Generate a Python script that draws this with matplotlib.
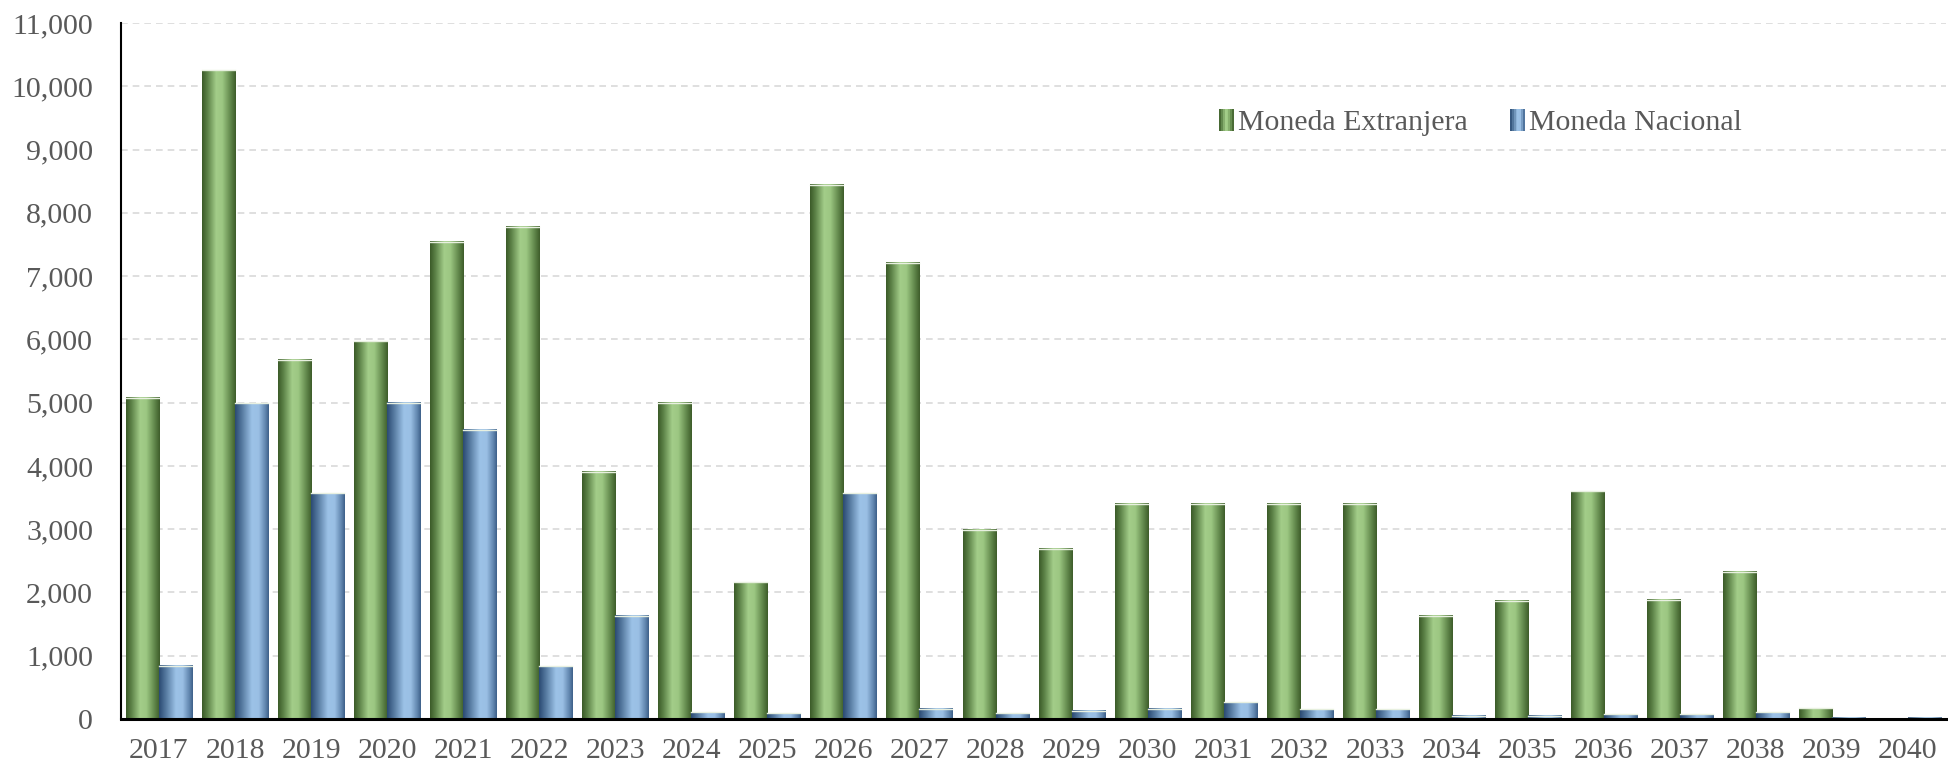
import numpy as np
import matplotlib
matplotlib.use("Agg")
import matplotlib.pyplot as plt
from matplotlib.colors import LinearSegmentedColormap
from matplotlib.ticker import FuncFormatter, MultipleLocator
from matplotlib.patches import Patch, Rectangle
from matplotlib.legend_handler import HandlerBase

years = [str(y) for y in range(2017, 2041)]
extranjera = [5080, 10250, 5680, 5970, 7540, 7780, 3910, 5000, 2160, 8440, 7210, 2990,
              2690, 3400, 3400, 3400, 3400, 1630, 1870, 3600, 1885, 2330, 170, 5]
nacional = [840, 4990, 3570, 5000, 4570, 830, 1630, 110, 90, 3570, 160, 90,
            130, 160, 268, 158, 158, 52, 52, 79, 79, 110, 16, 16]
labels = ["Moneda Extranjera", "Moneda Nacional"]

plt.rcParams['font.family'] = ['Liberation Serif', 'DejaVu Serif']
txt = '#595959'
FS = 21.5

green_cmap = LinearSegmentedColormap.from_list(
    'g', [(0, '#3b5a28'), (0.15, '#5a7f45'), (0.42, '#a3cd89'), (0.6, '#9cc782'),
          (0.85, '#5f8549'), (1, '#3d5c2a')])
blue_cmap = LinearSegmentedColormap.from_list(
    'b', [(0, '#2a4a72'), (0.2, '#55799f'), (0.5, '#9cc2e7'), (0.7, '#9abfe4'),
          (0.9, '#5f84ad'), (1, '#3d5f88')])

fig = plt.figure(figsize=(19.48, 7.70), dpi=100)
ax = fig.add_axes([121 / 1948, 51 / 770, 1 - 121 / 1948 - 0.001, 696 / 770])

x = np.arange(len(years))
w = 0.434
b1 = ax.bar(x - w / 2, extranjera, w, color='none', edgecolor='none', zorder=3)
b2 = ax.bar(x + w / 2, nacional, w, color='none', edgecolor='none', zorder=3)

grad = np.linspace(0, 1, 256).reshape(1, -1)
for bars, cmap in ((b1, green_cmap), (b2, blue_cmap)):
    for p in bars:
        x0, y0 = p.get_x(), p.get_y()
        ww, hh = p.get_width(), p.get_height()
        if hh <= 0:
            continue
        ax.imshow(grad, extent=[x0, x0 + ww, y0, y0 + hh], aspect='auto',
                  cmap=cmap, zorder=3, interpolation='bilinear')
        ax.plot([x0, x0 + ww], [y0 + hh, y0 + hh], color='#e8f0e0', lw=1, zorder=4)

ax.set_xlim(-0.5, len(years) - 0.5)
ax.set_ylim(0, 11000)
ax.yaxis.set_major_locator(MultipleLocator(1000))
ax.yaxis.set_major_formatter(FuncFormatter(lambda v, p: f"{int(v):,}"))
ax.set_xticks(x)
ax.set_xticklabels(years)
ax.tick_params(axis='both', length=0, labelsize=FS, colors=txt)
ax.tick_params(axis='x', pad=14)
ax.tick_params(axis='y', pad=20)
ax.grid(axis='y', color='#d9d9d9', linestyle=(0, (4, 3)), lw=1.2, zorder=0)
ax.set_axisbelow(True)
for s in ['top', 'right']:
    ax.spines[s].set_visible(False)
ax.spines['left'].set_color('black')
ax.spines['left'].set_linewidth(1.5)
ax.spines['bottom'].set_color('black')
ax.spines['bottom'].set_linewidth(2.2)
ax.spines['left'].set_zorder(5)
ax.spines['bottom'].set_zorder(5)


class GradHandler(HandlerBase):
    def __init__(self, cmap):
        super().__init__()
        self.cmap = cmap

    def create_artists(self, legend, orig_handle, xdescent, ydescent, width,
                       height, fontsize, trans):
        n = 8
        arts = []
        for i in range(n):
            r = Rectangle((-xdescent + width * i / n, -ydescent), width / n, height,
                          facecolor=self.cmap((i + 0.5) / n), edgecolor='none',
                          transform=trans)
            arts.append(r)
        return arts


h1 = Patch(label=labels[0])
h2 = Patch(label=labels[1])
leg = ax.legend([h1, h2], labels, loc='center', bbox_to_anchor=(0.745, 0.857),
                ncol=2, frameon=False, fontsize=FS, handlelength=0.5,
                handleheight=0.75, handletextpad=0.15, columnspacing=1.4,
                handler_map={h1: GradHandler(green_cmap), h2: GradHandler(blue_cmap)})
for t in leg.get_texts():
    t.set_color(txt)

fig.savefig('out.png', dpi=100)
